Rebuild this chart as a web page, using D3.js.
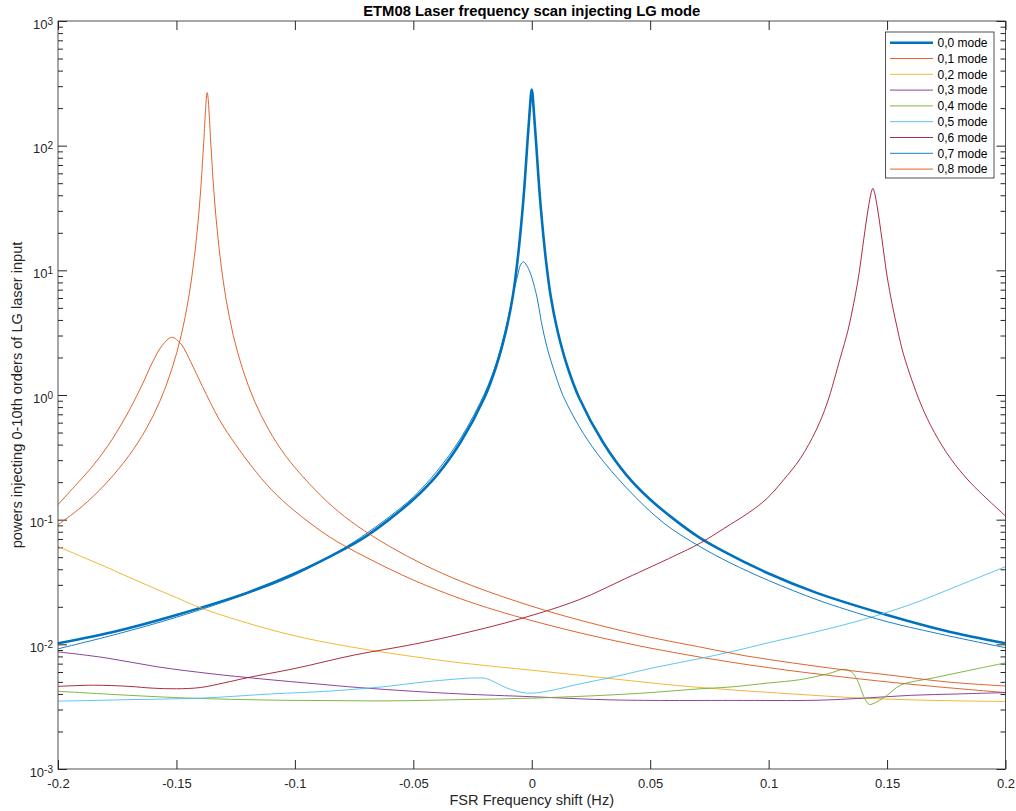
<!DOCTYPE html>
<html>
<head>
<meta charset="utf-8">
<script src="https://cdn.jsdelivr.net/npm/d3@7"></script>
<style>
  body { margin: 0; background: #fff; }
  svg { font-family: "Liberation Sans", Arial, sans-serif; }
</style>
</head>
<body>
<div id="chart"></div>
<script>
// ---- data: [shift (FSR), power] ----
var mode00 = [[-0.2,0.0102],[-0.175,0.0128],[-0.15,0.0172],[-0.12,0.026],[-0.1,0.037],[-0.08,0.057],[-0.07,0.0735],
  [-0.06,0.101],[-0.05,0.145],[-0.04,0.228],[-0.03,0.42],[-0.02,0.95],[-0.015,1.7],[-0.011,3.2],[-0.008,6.2],
  [-0.006,12],[-0.004,29],[-0.003,50],[-0.002,95],[-0.001,175],[0,282],[0.001,175],[0.002,95],[0.003,50],
  [0.004,29],[0.006,12],[0.008,6.2],[0.011,3.2],[0.015,1.7],[0.02,0.95],[0.03,0.42],[0.04,0.228],[0.05,0.145],
  [0.06,0.101],[0.07,0.0735],[0.08,0.057],[0.1,0.037],[0.12,0.026],[0.15,0.0172],[0.175,0.0128],[0.2,0.0102]];

var mode01 = [[-0.2,0.132],[-0.193,0.185],[-0.186,0.26],[-0.179,0.39],[-0.172,0.64],[-0.165,1.15],[-0.16,1.85],
  [-0.156,2.5],[-0.152,2.9],[-0.148,2.55],[-0.144,1.85],[-0.139,1.17],[-0.132,0.64],[-0.125,0.4],[-0.118,0.264],
  [-0.11,0.175],[-0.1,0.117],[-0.085,0.072],[-0.07,0.05],[-0.05,0.0328],[-0.03,0.0232],[-0.015,0.0187],[0,0.0155],
  [0.02,0.0124],[0.04,0.0102],[0.06,0.0086],[0.084,0.0072],[0.1,0.0065],[0.12,0.0058],[0.15,0.005],[0.175,0.0045],
  [0.2,0.0041]];

var mode02 = [[-0.2,0.061],[-0.19,0.0505],[-0.18,0.042],[-0.17,0.0345],[-0.16,0.0285],[-0.15,0.0237],[-0.14,0.0197],
  [-0.12,0.0148],[-0.1,0.0117],[-0.08,0.0098],[-0.06,0.0085],[-0.03,0.0071],[0,0.0062],[0.03,0.0054],[0.06,0.0047],
  [0.084,0.00432],[0.11,0.004],[0.14,0.0037],[0.17,0.00355],[0.2,0.00348]];

var mode03 = [[-0.2,0.0087],[-0.18,0.0078],[-0.158,0.0066],[-0.135,0.0058],[-0.115,0.0053],[-0.09,0.0048],
  [-0.073,0.0045],[-0.05,0.0042],[-0.03,0.004],[0,0.0038],[0.03,0.0036],[0.05,0.00355],[0.085,0.00355],
  [0.12,0.00356],[0.14,0.0037],[0.16,0.0039],[0.18,0.004],[0.2,0.0041]];

var mode04 = [[-0.2,0.0042],[-0.17,0.0039],[-0.144,0.0037],[-0.11,0.00357],[-0.087,0.00354],[-0.06,0.00352],
  [-0.03,0.0036],[0,0.0037],[0.03,0.0039],[0.05,0.0041],[0.071,0.0044],[0.084,0.00455],[0.1,0.0049],[0.113,0.0052],
  [0.125,0.0058],[0.132,0.0063],[0.135,0.006],[0.1374,0.0052],[0.1402,0.0038],[0.1425,0.0033],[0.1458,0.00347],
  [0.15,0.0039],[0.1557,0.0047],[0.17,0.0054],[0.185,0.0062],[0.2,0.0071]];

var mode05 = [[-0.2,0.0035],[-0.17,0.0036],[-0.14,0.0037],[-0.11,0.004],[-0.087,0.0042],[-0.064,0.00454],
  [-0.045,0.005],[-0.03,0.0053],[-0.024,0.00537],[-0.019,0.0053],[-0.0105,0.00446],[-0.002,0.00406],[0.0064,0.0042],
  [0.02,0.0048],[0.035,0.0055],[0.05,0.0064],[0.071,0.0077],[0.084,0.0087],[0.1,0.0103],[0.12,0.0126],
  [0.14,0.0158],[0.16,0.0209],[0.18,0.0295],[0.2,0.042]];

var mode06 = [[-0.2,0.0046],[-0.185,0.0047],[-0.17,0.0046],[-0.16,0.00445],[-0.15,0.0044],[-0.14,0.0045],
  [-0.13,0.0049],[-0.12,0.0054],[-0.1,0.0064],[-0.075,0.0082],[-0.05,0.01],[-0.03,0.0121],[-0.005,0.016],
  [0.02,0.0228],[0.04,0.034],[0.06,0.051],[0.0712,0.065],[0.084,0.092],[0.092,0.115],[0.0993,0.148],[0.106,0.205],
  [0.1134,0.31],[0.12,0.52],[0.1247,0.86],[0.1303,2.0],[0.1335,3.3],[0.1359,5.4],[0.138,9.0],[0.1402,18],[0.142,31],
  [0.1433,42],[0.144,45.5],[0.1447,42],[0.146,31],[0.1478,18],[0.15,9.0],[0.1521,5.4],[0.1545,3.3],[0.157,2.1],
  [0.1641,0.86],[0.17,0.5],[0.1768,0.31],[0.185,0.2],[0.2,0.107]];

var mode07 = [[-0.2,0.0092],[-0.175,0.0121],[-0.15,0.0165],[-0.12,0.0255],[-0.1,0.036],[-0.08,0.058],
  [-0.07,0.077],[-0.06,0.106],[-0.05,0.152],[-0.04,0.245],[-0.03,0.45],[-0.02,1.02],[-0.015,1.8],[-0.011,3.4],
  [-0.008,6.3],[-0.006,9.0],[-0.0048,11.0],[-0.0035,11.7],[-0.0022,11.0],[-0.0006,9.5],[0.0022,6.1],[0.004,3.9],
  [0.0064,2.43],[0.01,1.45],[0.0134,0.97],[0.02,0.56],[0.0276,0.34],[0.04,0.18],[0.0557,0.094],[0.0712,0.0605],
  [0.0838,0.045],[0.1,0.0325],[0.1204,0.0228],[0.1332,0.0189],[0.15,0.0152],[0.175,0.0118],[0.2,0.0094]];

var mode08 = [[-0.2,0.091],[-0.19,0.127],[-0.18,0.193],[-0.17,0.327],[-0.163,0.525],[-0.157,0.89],[-0.152,1.6],
  [-0.148,3.0],[-0.145,5.8],[-0.143,10.5],[-0.141,23],[-0.1395,52],[-0.1385,105],[-0.137,266],[-0.1355,105],
  [-0.1345,52],[-0.133,23],[-0.131,10.5],[-0.129,5.8],[-0.126,3.0],[-0.122,1.6],[-0.117,0.89],[-0.111,0.525],
  [-0.104,0.327],[-0.094,0.195],[-0.084,0.127],[-0.074,0.09],[-0.06,0.061],[-0.045,0.043],[-0.03,0.0321],
  [-0.01,0.0233],[0.01,0.0177],[0.03,0.014],[0.05,0.0114],[0.07,0.0096],[0.09,0.0081],[0.11,0.0071],
  [0.13,0.0063],[0.15,0.0057],[0.175,0.005],[0.2,0.00463]];

var seriesNames = ["0,0 mode","0,1 mode","0,2 mode","0,3 mode","0,4 mode","0,5 mode","0,6 mode","0,7 mode","0,8 mode"];
var seriesData = [mode00, mode01, mode02, mode03, mode04, mode05, mode06, mode07, mode08];
var seriesColors = ["#0072BD","#D95319","#EDB120","#7E2F8E","#77AC30","#4DBEEE","#A2142F","#0072BD","#D95319"];

var xTicks = [-0.2,-0.15,-0.1,-0.05,0,0.05,0.1,0.15,0.2];
var xTickLabels = ["-0.2","-0.15","-0.1","-0.05","0","0.05","0.1","0.15","0.2"];
var yTicks = [1e-3,1e-2,1e-1,1e0,1e1,1e2,1e3];
var yTickExp = ["-3","-2","-1","0","1","2","3"];

// ---- size ----
var svgWidth = 1016;
var svgHeight = 811;
var margin = {top: 21, right: 10.5, bottom: 42, left: 58};
var width = svgWidth - margin.left - margin.right;
var height = svgHeight - margin.top - margin.bottom;
var axisColor = "#262626";

var svg = d3.select("#chart")
  .append("svg")
  .attr("width", svgWidth)
  .attr("height", svgHeight);

var chartGroup = svg.append("g")
  .attr("transform", `translate(${margin.left}, ${margin.top})`);

var x = d3.scaleLinear().domain([-0.2, 0.2]).range([0, width]);
var y = d3.scaleLog().domain([1e-3, 1e3]).range([height, 0]);

// minor log ticks 2..9 in each decade
var yMinor = [];
for (var e = -3; e < 3; e++) {
  for (var m = 2; m <= 9; m++) yMinor.push(m * Math.pow(10, e));
}

function styleAxis(g) {
  g.attr("color", axisColor).attr("font-family", null).attr("font-size", 13);
  g.select(".domain").remove();
}

// x axes (ticks point inward)
chartGroup.append("g")
  .attr("transform", `translate(0, ${height})`)
  .call(d3.axisBottom(x).tickValues(xTicks).tickSizeInner(-9).tickSizeOuter(0).tickPadding(9.8)
    .tickFormat((d, i) => xTickLabels[i]))
  .call(styleAxis)
  .selectAll("text").attr("fill", axisColor);

chartGroup.append("g")
  .call(d3.axisTop(x).tickValues(xTicks).tickSizeInner(-9).tickSizeOuter(0).tickFormat(""))
  .call(styleAxis);

// y axes, major + minor
chartGroup.append("g")
  .call(d3.axisLeft(y).tickValues(yTicks).tickSizeInner(-9).tickSizeOuter(0).tickFormat(""))
  .call(styleAxis);
chartGroup.append("g")
  .call(d3.axisLeft(y).tickValues(yMinor).tickSizeInner(-5).tickSizeOuter(0).tickFormat(""))
  .call(styleAxis);
chartGroup.append("g")
  .attr("transform", `translate(${width}, 0)`)
  .call(d3.axisRight(y).tickValues(yTicks).tickSizeInner(-9).tickSizeOuter(0).tickFormat(""))
  .call(styleAxis);
chartGroup.append("g")
  .attr("transform", `translate(${width}, 0)`)
  .call(d3.axisRight(y).tickValues(yMinor).tickSizeInner(-5).tickSizeOuter(0).tickFormat(""))
  .call(styleAxis);

// y tick labels 10^n
var yLab = chartGroup.append("g").selectAll("text")
  .data(yTicks)
  .enter()
  .append("text")
  .attr("x", -5)
  .attr("y", d => y(d) + 7.8)
  .attr("text-anchor", "end")
  .attr("fill", axisColor)
  .style("font-size", "13px");
yLab.append("tspan").text("10");
yLab.append("tspan")
  .attr("dy", -4)
  .style("font-size", "10px")
  .text((d, i) => yTickExp[i]);

// clip lines to plot area
svg.append("defs").append("clipPath").attr("id", "plotClip")
  .append("rect").attr("width", width).attr("height", height);

var line = d3.line()
  .x(d => x(d[0]))
  .y(d => y(d[1]))
  .curve(d3.curveCatmullRom.alpha(0.5));

chartGroup.append("g")
  .attr("clip-path", "url(#plotClip)")
  .selectAll("path")
  .data(seriesData)
  .enter()
  .append("path")
  .attr("d", d => line(d))
  .attr("fill", "none")
  .attr("stroke", (d, i) => seriesColors[i])
  .attr("stroke-width", (d, i) => i === 0 ? 2.6 : 0.9)
  .attr("stroke-linejoin", "round");

// box
chartGroup.append("rect")
  .attr("width", width)
  .attr("height", height)
  .attr("fill", "none")
  .attr("stroke", axisColor)
  .attr("stroke-width", 0.8);

// title and axis labels
svg.append("text")
  .attr("x", margin.left + width / 2)
  .attr("y", 16)
  .attr("text-anchor", "middle")
  .attr("fill", "#000")
  .style("font-size", "14.8px")
  .style("font-weight", "bold")
  .text("ETM08 Laser frequency scan injecting LG mode");

svg.append("text")
  .attr("x", margin.left + width / 2)
  .attr("y", 805)
  .attr("text-anchor", "middle")
  .attr("fill", axisColor)
  .style("font-size", "14.6px")
  .text("FSR Frequency shift (Hz)");

svg.append("text")
  .attr("transform", `translate(22, ${margin.top + height / 2}) rotate(-90)`)
  .attr("text-anchor", "middle")
  .attr("fill", axisColor)
  .style("font-size", "14.6px")
  .text("powers injecting 0-10th orders of LG laser input");

// legend
var legend = svg.append("g").attr("transform", "translate(885.5, 32)");
legend.append("rect")
  .attr("width", 108.5)
  .attr("height", 146)
  .attr("fill", "#fff")
  .attr("stroke", axisColor)
  .attr("stroke-width", 0.8);

var rows = legend.selectAll("g.row")
  .data(seriesNames)
  .enter()
  .append("g")
  .attr("class", "row")
  .attr("transform", (d, i) => `translate(0, ${10.7 + i * 15.8})`);

rows.append("line")
  .attr("x1", 4.5).attr("x2", 47.5)
  .attr("stroke", (d, i) => seriesColors[i])
  .attr("stroke-width", (d, i) => i === 0 ? 2.6 : 0.9);

rows.append("text")
  .attr("x", 52)
  .attr("y", 4.3)
  .attr("fill", "#000")
  .style("font-size", "12px")
  .text(d => d);
</script>
</body>
</html>
